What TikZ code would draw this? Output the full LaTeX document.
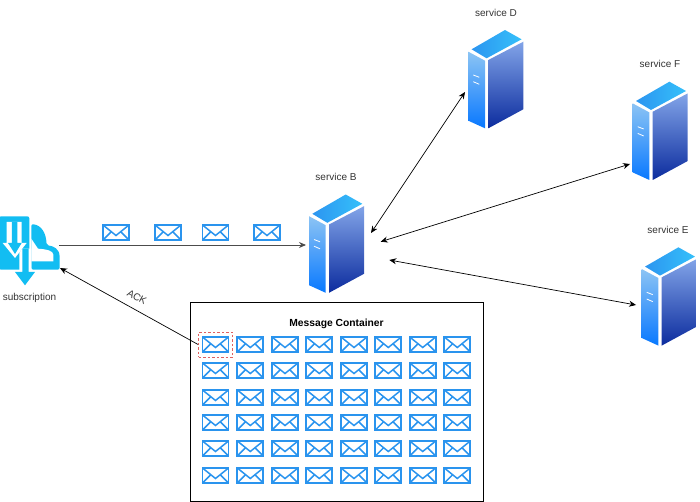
\documentclass[tikz,border=0pt]{standalone}
\usepackage{fontspec}
\setmainfont{Liberation Sans}
\usetikzlibrary{arrows.meta}
\definecolor{mailblue}{HTML}{2A94EE}
\definecolor{subcyan}{HTML}{12BDF2}
\definecolor{labelgrey}{HTML}{333333}
\definecolor{dashred}{HTML}{E0605F}
\definecolor{topA}{HTML}{35C0FA}
\definecolor{topB}{HTML}{2C95F0}
\definecolor{leftA}{HTML}{8CC4F4}
\definecolor{leftB}{HTML}{0878FF}
\definecolor{rightA}{HTML}{82A4E8}
\definecolor{rightB}{HTML}{0C2C9E}
\tikzset{
  mail/.pic={
    \draw[mailblue,line width=1.8pt,line join=miter] (-13,-7.5) rectangle (13,7.5);
    \draw[mailblue,line width=1.5pt] (-13,-7.5) -- (0,3) -- (13,-7.5);
    \draw[mailblue,line width=1.5pt] (-13,7.5) -- (-4.5,-1);
    \draw[mailblue,line width=1.5pt] (13,7.5) -- (4.5,-1);
  },
  server/.pic={
    \shade[right color=topA,left color=topB]
      (3.3,19.3) -- (36.7,0) -- (53.3,9.3) -- (18.3,28.3) -- cycle;
    \shade[top color=leftA,bottom color=leftB]
      (0,21.7) -- (16.7,30.7) -- (16.7,98.3) -- (0,90.7) -- cycle;
    \shade[top color=rightA,bottom color=rightB]
      (20,30) -- (55,11.7) -- (55,79.3) -- (20,98.3) -- cycle;
    \draw[white,line width=0.8pt] (5,45) -- (11,47.3) (5,51.7) -- (11,54.3);
  },
  svclabel/.style={text=labelgrey,font=\fontsize{10}{12}\selectfont,inner sep=0pt},
  link/.style={black,line width=0.7pt,{Stealth[length=7pt,width=6pt]}-{Stealth[length=7pt,width=6pt]}},
  oneway/.style={black,line width=0.7pt,-{Stealth[length=7pt,width=6pt]}},
}
\begin{document}
\begin{tikzpicture}[x=1pt,y=-1pt]
\useasboundingbox (0,0) rectangle (700,502);

% Servers and their captions
\pic at (309,194.5) {server};
\pic at (468.3,30) {server};
\pic at (632.7,81.7) {server};
\pic at (641.7,247.3) {server};
\node[svclabel] (labelB) at (336,177) {service B};
\node[svclabel] (labelD) at (496,13) {service D};
\node[svclabel] (labelF) at (660,64) {service F};
\node[svclabel] (labelE) at (668,230) {service E};

% Subscription icon, drawn on a 3:1 grid
\begin{scope}[shift={(0,208)},x=0.3333pt,y=-0.3333pt]
  \fill[subcyan,rounded corners=2pt] (-3,25) -- (88,25) -- (88,185) -- (-3,185) -- cycle;
  \fill[subcyan,rounded corners=2pt] (94,48) .. controls (125,52) and (138,75) .. (140,112)
     .. controls (160,114) and (178,122) .. (179,150) -- (179,185) -- (94,185) -- cycle;
  \fill[white] (94,92) -- (114,122) .. controls (140,124) and (160,128) .. (160,140)
     -- (160,160) -- (94,160) -- cycle;
  \fill[white] (20,42) -- (65,42) -- (65,105) -- (80,105) -- (45,150) -- (8,105) -- (20,105) -- cycle;
  \fill[subcyan] (36,42) -- (52,42) -- (52,105) -- (65,105) -- (45,138) -- (24,105) -- (36,105) -- cycle;
  \fill[white] (58,134) -- (66,122) -- (94,122) -- (94,190) -- (58,190) -- cycle;
  \fill[subcyan] (67,122) -- (86,122) -- (86,192) -- (105,192) -- (75,232) -- (45,192) -- (67,192) -- cycle;
\end{scope}
\node[svclabel,text=labelgrey] (labelSub) at (29.5,298) {subscription};

% Messages on their way to service B
\foreach \mx in {116,168,215.5,267} {
  \pic at (\mx,232.5) {mail};
}

% Message container with its grid of messages
\node[draw=black,line width=0.9pt,minimum width=293.5pt,minimum height=198.5pt,inner sep=0pt] (container) at (336.75,402) {};
\node[font=\fontsize{10}{12}\selectfont\bfseries,inner sep=0pt,scale=1.03] (containerTitle) at (336.5,324) {Message Container};
\foreach \my in {344.5,370.5,397.5,422.5,448.5,475.5} {
  \foreach \mx in {215.5,250.3,285,319.3,354,388.3,422.7,457.3} {
    \pic at (\mx,\my) {mail};
  }
}
\node[draw=dashred,dash pattern=on 2.5pt off 2pt,line width=0.9pt,minimum width=34pt,minimum height=25pt,inner sep=0pt] (selected) at (215.5,344.5) {};

% Connector end points
\coordinate (subOut) at (59,245);
\coordinate (bIn) at (306,245);
\coordinate (subAck) at (60,268);
\coordinate (bToD) at (371,233);
\coordinate (dToB) at (465,92);
\coordinate (bToF) at (380.7,241.7);
\coordinate (fToB) at (630,164);
\coordinate (bToE) at (389.3,260);
\coordinate (eToB) at (636,305);

\draw[oneway,draw=black!70,line width=0.9pt] (subOut) -- (bIn);
\draw[oneway] (selected.west) -- (subAck);
\node[svclabel,rotate=-29] (ackLabel) at (137,297) {ACK};
\draw[link] (bToD) -- (dToB);
\draw[link] (bToF) -- (fToB);
\draw[link] (bToE) -- (eToB);
\end{tikzpicture}
\end{document}
